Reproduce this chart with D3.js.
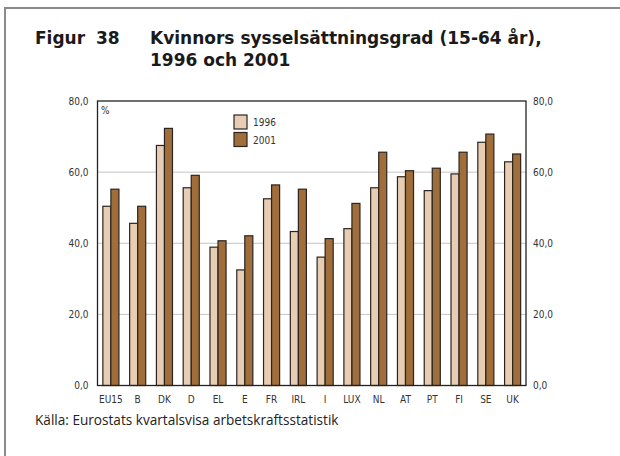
<!DOCTYPE html>
<html>
<head>
<meta charset="utf-8">
<script src="https://cdn.jsdelivr.net/npm/d3@7"></script>
<style>
  html, body { margin: 0; padding: 0; background: #fff; }
  svg { display: block; }
</style>
</head>
<body>
<svg id="chart" width="620" height="456"></svg>
<script>
// Kvinnors sysselsättningsgrad (15-64 år) per land, 1996 och 2001
const countries = ["EU15", "B", "DK", "D", "EL", "E", "FR", "IRL", "I", "LUX", "NL", "AT", "PT", "FI", "SE", "UK"];
const values1996 = [50.4, 45.6, 67.5, 55.6, 38.9, 32.5, 52.5, 43.3, 36.1, 44.1, 55.6, 58.7, 54.8, 59.5, 68.4, 62.9];
const values2001 = [55.2, 50.4, 72.3, 59.1, 40.7, 42.1, 56.4, 55.2, 41.3, 51.2, 65.6, 60.4, 61.1, 65.6, 70.7, 65.1];
const seriesNames = ["1996", "2001"];
const yTicks = [0, 20, 40, 60, 80];

const colors = { "1996": "#e6cdb4", "2001": "#a06e3a" };
const axisFont = "'DejaVu Sans Condensed', 'Liberation Sans Narrow', sans-serif";
const axisSize = 10;

const svg = d3.select("#chart");

// Outer frame: top and left rules only
svg.append("line").attr("x1", 5).attr("x2", 620).attr("y1", 8).attr("y2", 8)
  .attr("stroke", "#8a8a8a").attr("stroke-width", 2);
svg.append("line").attr("x1", 5).attr("x2", 5).attr("y1", 7).attr("y2", 456)
  .attr("stroke", "#8a8a8a").attr("stroke-width", 2);

// Title
const title = svg.append("g").attr("font-family", "'DejaVu Sans', sans-serif")
  .attr("font-weight", "bold").attr("font-size", 16).attr("fill", "#1a1a1a");
title.append("text").attr("x", 35).attr("y", 44).text("Figur");
title.append("text").attr("x", 96).attr("y", 44).text("38");
const titleMain = title.append("text").attr("x", 150).attr("y", 44).text("Kvinnors sysselsättningsgrad (15-64 år),");
title.append("text").attr("x", 150).attr("y", 66).text("1996 och 2001");
// Condense slightly so the main line spans the column width
const tw = titleMain.node().getComputedTextLength();
const fitSize = 16 * 402 / tw;
title.attr("font-size", Math.min(17, Math.max(14, fitSize)));

// Plot area
const plot = { left: 97.5, right: 526, top: 101, bottom: 385.5 };

const x = d3.scaleBand().domain(countries).range([plot.left, plot.right]).paddingInner(0.4).paddingOuter(0.2);
const xs = d3.scaleBand().domain(seriesNames).range([0, x.bandwidth()]);
const y = d3.scaleLinear().domain([0, 80]).range([plot.bottom, plot.top]);

const locale = d3.formatLocale({ decimal: ",", thousands: "\u00a0", grouping: [3], currency: ["", " kr"] });
const fmt = locale.format(".1f");

// Gridlines
svg.append("g").selectAll("line").data(yTicks.filter(t => t > 0 && t < 80)).join("line")
  .attr("x1", plot.left).attr("x2", plot.right)
  .attr("y1", d => y(d)).attr("y2", d => y(d))
  .attr("stroke", "#c4c4c4").attr("stroke-width", 1);

// Y axes on both sides
const leftAxis = svg.append("g").attr("transform", `translate(${plot.left},0)`)
  .call(d3.axisLeft(y).tickValues(yTicks).tickFormat(fmt).tickSize(0).tickPadding(9));
const rightAxis = svg.append("g").attr("transform", `translate(${plot.right},0)`)
  .call(d3.axisRight(y).tickValues(yTicks).tickFormat(fmt).tickSize(0).tickPadding(7));
[leftAxis, rightAxis].forEach(a => {
  a.select(".domain").remove();
  a.selectAll("text").attr("font-family", axisFont).attr("font-size", axisSize).attr("fill", "#333");
});

// Bars
const groups = svg.append("g").selectAll("g").data(countries).join("g")
  .attr("transform", d => `translate(${x(d)},0)`);
groups.selectAll("rect").data((d, i) => [
    { s: "1996", v: values1996[i] },
    { s: "2001", v: values2001[i] }
  ]).join("rect")
  .attr("x", d => xs(d.s))
  .attr("width", xs.bandwidth())
  .attr("y", d => y(d.v))
  .attr("height", d => y(0) - y(d.v))
  .attr("fill", d => colors[d.s])
  .attr("stroke", "#2b2420").attr("stroke-width", 1.2);

// Plot frame
svg.append("rect").attr("x", plot.left).attr("y", plot.top)
  .attr("width", plot.right - plot.left).attr("height", plot.bottom - plot.top)
  .attr("fill", "none").attr("stroke", "#222").attr("stroke-width", 1.3);

// X axis labels
const xAxis = svg.append("g").attr("transform", `translate(0,${plot.bottom})`)
  .call(d3.axisBottom(x).tickSize(0).tickPadding(10));
xAxis.select(".domain").remove();
xAxis.selectAll("text").attr("font-family", axisFont).attr("font-size", axisSize).attr("fill", "#333");

// Unit label
svg.append("text").attr("x", 101).attr("y", 114).attr("font-family", axisFont)
  .attr("font-size", axisSize).attr("fill", "#333").text("%");

// Legend
const legend = svg.append("g").attr("transform", "translate(234,115)");
seriesNames.forEach((s, i) => {
  const g = legend.append("g").attr("transform", `translate(0,${i * 17.5})`);
  g.append("rect").attr("width", 13).attr("height", 14)
    .attr("fill", colors[s]).attr("stroke", "#2b2420").attr("stroke-width", 1.2);
  g.append("text").attr("x", 19).attr("y", 11).attr("font-family", axisFont)
    .attr("font-size", axisSize).attr("fill", "#333").text(s);
});

// Source
svg.append("text").attr("x", 35).attr("y", 425)
  .attr("font-family", "'Open Sans', sans-serif").attr("font-size", 13.6).attr("fill", "#222")
  .text("Källa: Eurostats kvartalsvisa arbetskraftsstatistik");
</script>
</body>
</html>
